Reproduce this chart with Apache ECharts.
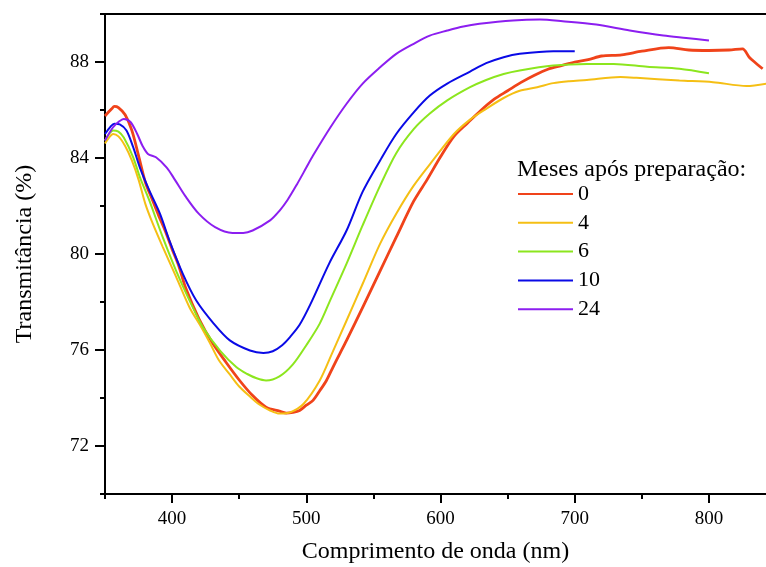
<!DOCTYPE html>
<html>
<head>
<meta charset="utf-8">
<script src="https://cdn.jsdelivr.net/npm/echarts@6/dist/echarts.min.js"></script>
<style>
  html, body { margin: 0; padding: 0; background: #fff; }
  #chart { width: 766px; height: 567px; }
</style>
</head>
<body>
<div id="chart"></div>
<script>
// tick values
var xMajorTicks = [400, 500, 600, 700, 800];
var xMinorTicks = [350, 450, 550, 650, 750];
var yMajorTicks = [72, 76, 80, 84, 88];
var yMinorTicks = [70, 74, 78, 82, 86, 90];

var legendNames = ["0", "4", "6", "10", "24"];
var colors = ["#f0431a", "#f5bf14", "#8ce61e", "#0a0ae6", "#8c1ef0"];

// 0 meses
var wl0 = [350, 355, 357, 360, 365, 370, 375, 380, 385, 390, 395, 400, 405, 410, 420, 430, 440, 450, 460, 470, 480, 485, 490, 495, 500, 505, 510, 515, 520, 525, 530, 542, 555, 567, 580, 590, 600, 610, 620, 630, 640, 650, 660, 670, 680, 690, 700, 710, 720, 735, 750, 770, 785, 800, 815, 825, 830, 835, 840];
var t0 = [85.75, 86.05, 86.15, 86.1, 85.8, 85.15, 84.1, 83.0, 82.3, 81.6, 80.95, 80.2, 79.5, 78.6, 77.3, 76.3, 75.5, 74.75, 74.1, 73.62, 73.45, 73.37, 73.4, 73.48, 73.7, 73.9, 74.3, 74.73, 75.3, 75.85, 76.4, 77.78, 79.3, 80.7, 82.2, 83.1, 84.05, 84.9, 85.45, 85.98, 86.45, 86.8, 87.15, 87.45, 87.7, 87.85, 88.0, 88.1, 88.25, 88.3, 88.45, 88.6, 88.5, 88.48, 88.5, 88.55, 88.2, 87.95, 87.72];

// 4 meses
var wl4 = [350, 353, 356, 360, 365, 370, 375, 380, 385, 393, 403, 413, 421, 428, 435, 443, 450, 458, 465, 473, 480, 488, 498, 510, 519, 530, 542, 555, 567, 580, 595, 610, 622, 634, 647, 659, 672, 684, 696, 709, 734, 746, 778, 803, 828, 843];
var t4 = [84.6, 84.85, 85.0, 84.9, 84.5, 83.9, 83.1, 82.1, 81.35, 80.3, 79.05, 77.77, 77.02, 76.31, 75.56, 74.98, 74.48, 74.06, 73.73, 73.48, 73.35, 73.4, 73.76, 74.73, 75.84, 77.23, 78.76, 80.43, 81.68, 82.85, 83.95, 85.0, 85.6, 86.05, 86.5, 86.8, 86.95, 87.12, 87.2, 87.25, 87.37, 87.34, 87.23, 87.16, 87.0, 87.1];

// 6 meses
var wl6 = [350, 353, 356, 360, 364, 371, 376, 383, 393, 403, 413, 423, 436, 448, 456, 463, 470, 480, 490, 500, 510, 518, 530, 542, 555, 567, 580, 592, 605, 622, 634, 647, 659, 684, 709, 729, 754, 778, 800];
var t6 = [84.73, 85.0, 85.15, 85.1, 84.85, 84.03, 83.2, 82.23, 80.7, 79.3, 78.06, 76.95, 75.95, 75.28, 75.0, 74.82, 74.73, 74.9, 75.4, 76.2, 77.1, 78.1, 79.6, 81.2, 82.85, 84.2, 85.2, 85.85, 86.4, 86.95, 87.25, 87.5, 87.65, 87.85, 87.92, 87.92, 87.8, 87.72, 87.53];

// 10 meses
var wl10 = [350, 354, 357, 361, 366, 371, 376, 383, 391, 398, 408, 418, 431, 443, 458, 468, 475, 482, 488, 495, 503, 517, 530, 542, 555, 567, 580, 592, 605, 622, 634, 647, 659, 684, 700];
var t10 = [85.0, 85.3, 85.43, 85.4, 85.15, 84.45, 83.6, 82.65, 81.67, 80.56, 79.17, 78.06, 77.1, 76.4, 75.98, 75.88, 75.95, 76.2, 76.55, 77.05, 77.9, 79.6, 80.98, 82.6, 83.9, 85.0, 85.9, 86.6, 87.1, 87.6, 87.95, 88.2, 88.34, 88.45, 88.45];

// 24 meses
var wl24 = [350, 356, 360, 364, 369, 374, 378, 382, 388, 396, 402, 410, 420, 432, 445, 453, 460, 473, 480, 486, 493, 500, 505, 518, 530, 542, 555, 567, 580, 592, 605, 617, 629, 654, 674, 691, 716, 741, 766, 783, 800];
var t24 = [84.73, 85.28, 85.5, 85.63, 85.5, 85.0, 84.5, 84.17, 84.03, 83.6, 83.1, 82.4, 81.67, 81.12, 80.88, 80.88, 80.98, 81.4, 81.8, 82.25, 82.9, 83.6, 84.1, 85.28, 86.26, 87.1, 87.78, 88.34, 88.76, 89.1, 89.31, 89.48, 89.59, 89.73, 89.77, 89.7, 89.56, 89.31, 89.1, 89.0, 88.9];

var wls = [wl0, wl4, wl6, wl10, wl24];
var vals = [t0, t4, t6, t10, t24];

var serif = "Liberation Serif";
var black = "#000";

var series = legendNames.map(function (name, i) {
  return {
    name: name,
    type: "line",
    symbol: "none",
    smooth: 0.3,
    xAxisIndex: 0,
    yAxisIndex: 0,
    color: colors[i],
    lineStyle: { width: i === 0 ? 2.8 : 2, color: colors[i] },
    data: wls[i].map(function (x, j) {
      return [x, vals[i][j]];
    }),
  };
});

var chart = echarts.init(document.getElementById("chart"), null, { renderer: "canvas" });
chart.setOption({
  animation: false,
  backgroundColor: "#fff",
  grid: { left: 105, top: 14, right: 0, bottom: 73, containLabel: false, outerBoundsMode: "none" },
  title: {
    text: "Meses após preparação:",
    left: 517,
    top: 158,
    padding: 0,
    textStyle: { fontFamily: serif, fontSize: 24, fontWeight: "normal", color: black },
  },
  legend: {
    orient: "vertical",
    left: 517,
    top: 183,
    padding: 0,
    itemWidth: 55,
    itemHeight: 22,
    itemGap: 6.8,
    itemStyle: { opacity: 0 },
    textStyle: { fontFamily: serif, fontSize: 22, color: black, lineHeight: 22 },
    data: legendNames,
  },
  xAxis: [
    {
      type: "value",
      min: 350,
      max: 842.5,
      position: "bottom",
      name: "Comprimento de onda (nm)",
      nameLocation: "middle",
      nameGap: 46,
      nameTextStyle: { fontFamily: serif, fontSize: 24, color: black },
      axisLine: { onZero: false, lineStyle: { color: black, width: 2 } },
      axisTick: { customValues: xMajorTicks, length: 9, lineStyle: { color: black, width: 2 } },
      axisLabel: { customValues: xMajorTicks, fontFamily: serif, fontSize: 19, color: black, margin: 16 },
      splitLine: { show: false },
    },
    {
      type: "value",
      min: 350,
      max: 842.5,
      position: "bottom",
      axisLine: { show: false, onZero: false },
      axisTick: { customValues: xMinorTicks, length: 5, lineStyle: { color: black, width: 2 } },
      axisLabel: { show: false },
      splitLine: { show: false },
    },
    {
      type: "value",
      min: 350,
      max: 842.5,
      position: "top",
      axisLine: { onZero: false, lineStyle: { color: black, width: 2 } },
      axisTick: { show: false },
      axisLabel: { show: false },
      splitLine: { show: false },
    },
  ],
  yAxis: [
    {
      type: "value",
      min: 70,
      max: 90,
      position: "left",
      name: "Transmitância (%)",
      nameLocation: "middle",
      nameGap: 68,
      nameTextStyle: { fontFamily: serif, fontSize: 24, color: black },
      axisLine: { onZero: false, lineStyle: { color: black, width: 2 } },
      axisTick: { customValues: yMajorTicks, length: 10, lineStyle: { color: black, width: 2 } },
      axisLabel: { customValues: yMajorTicks, fontFamily: serif, fontSize: 19, color: black, margin: 16 },
      splitLine: { show: false },
    },
    {
      type: "value",
      min: 70,
      max: 90,
      position: "left",
      axisLine: { show: false, onZero: false },
      axisTick: { customValues: yMinorTicks, length: 5, lineStyle: { color: black, width: 2 } },
      axisLabel: { show: false },
      splitLine: { show: false },
    },
  ],
  series: series,
});
</script>
</body>
</html>
